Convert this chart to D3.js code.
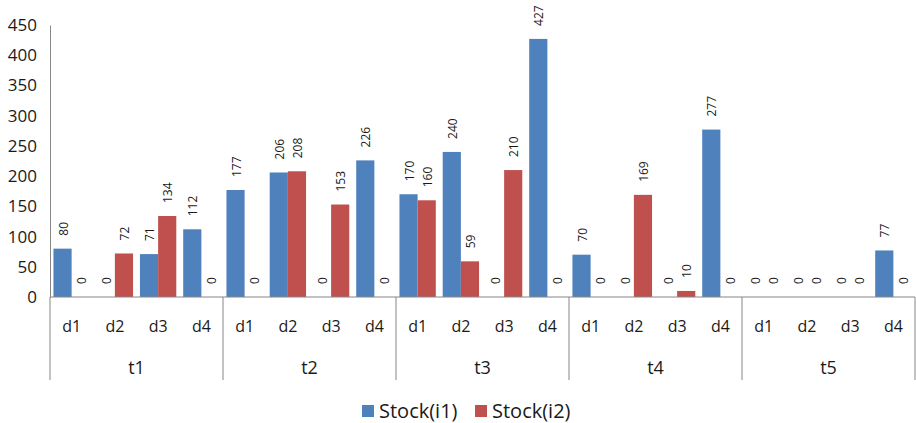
<!DOCTYPE html>
<html lang="en">
<meta charset="utf-8">
<head>
    <script src='https://d3js.org/d3.v7.min.js'></script>
    <style>
        body { margin: 0; background: #fff; }
        text { font-family: "Open Sans", sans-serif; fill: #1a1a1a; }
    </style>
</head>
<body>
<script>
// data
const groups = ["t1", "t2", "t3", "t4", "t5"];
const days = ["d1", "d2", "d3", "d4"];
const seriesNames = ["Stock(i1)", "Stock(i2)"];
const stock1 = [80, 0, 71, 112,  177, 206, 0, 226,  170, 240, 0, 427,  70, 0, 0, 277,  0, 0, 0, 77];
const stock2 = [0, 72, 134, 0,   0, 208, 153, 0,    160, 59, 210, 0,   0, 169, 10, 0,   0, 0, 0, 0];
const yTicks = [0, 50, 100, 150, 200, 250, 300, 350, 400, 450];
const colors = ["#4F81BD", "#C0504D"];

const width = 916, height = 423;
const margin = {top: 25, right: 1, bottom: 126, left: 50};
const plotW = width - margin.left - margin.right;
const plotH = height - margin.top - margin.bottom;

const svg = d3.select("body").append("svg")
    .attr("width", width)
    .attr("height", height);

const g = svg.append("g")
    .attr("transform", "translate(" + margin.left + "," + margin.top + ")");

// one band per (group, day)
const cats = [];
groups.forEach(function(t) { days.forEach(function(d) { cats.push(t + "|" + d); }); });

const x = d3.scaleBand().domain(cats).range([0, plotW]).paddingInner(0).paddingOuter(0);
const xs = d3.scaleBand().domain([0, 1]).range([0, x.bandwidth()]).paddingInner(0).paddingOuter(0.19);
const y = d3.scaleLinear().domain([0, 450]).range([plotH, 0]);

// y axis
const yAxis = g.append("g")
    .call(d3.axisLeft(y).tickValues(yTicks).tickSize(0).tickPadding(13));
yAxis.select(".domain").attr("stroke", "#868686");
yAxis.selectAll("text").style("font-size", "17px").attr("font-family", "Open Sans").attr("fill", "#1a1a1a");

// bars + labels
const rows = cats.map(function(c, i) { return {cat: c, vals: [stock1[i], stock2[i]]}; });
const cat = g.selectAll(".cat").data(rows).join("g")
    .attr("transform", function(d) { return "translate(" + x(d.cat) + ",0)"; });

cat.selectAll("rect").data(function(d) { return d.vals; }).join("rect")
    .attr("x", function(v, i) { return xs(i); })
    .attr("y", function(v) { return y(v); })
    .attr("width", xs.bandwidth())
    .attr("height", function(v) { return plotH - y(v); })
    .attr("fill", function(v, i) { return colors[i]; });

cat.selectAll(".lbl").data(function(d) { return d.vals; }).join("text")
    .attr("class", "lbl")
    .attr("transform", function(v, i) {
        return "translate(" + (xs(i) + xs.bandwidth() / 2 + 1) + "," + (y(v) - 13) + ") rotate(-90)";
    })
    .attr("dy", "0.35em")
    .style("font-size", "12px")
    .text(function(v) { return v; });

// x axis line
g.append("line")
    .attr("x1", 0).attr("x2", plotW)
    .attr("y1", plotH).attr("y2", plotH)
    .attr("stroke", "#868686");

// group separators
const gw = plotW / groups.length;
d3.range(groups.length + 1).forEach(function(i) {
    g.append("line")
        .attr("x1", i * gw).attr("x2", i * gw)
        .attr("y1", plotH).attr("y2", plotH + 83)
        .attr("stroke", "#868686");
});

// day labels
g.selectAll(".day").data(cats).join("text")
    .attr("x", function(c) { return x(c) + x.bandwidth() / 2; })
    .attr("y", plotH + 35)
    .attr("text-anchor", "middle")
    .style("font-size", "16px")
    .text(function(c) { return c.split("|")[1]; });

// group labels
g.selectAll(".grp").data(groups).join("text")
    .attr("x", function(t, i) { return i * gw + gw / 2; })
    .attr("y", plotH + 77)
    .attr("text-anchor", "middle")
    .style("font-size", "18px")
    .text(function(t) { return t; });

// legend
const legend = svg.append("g").attr("transform", "translate(362,405)");
const item = legend.selectAll("g").data(seriesNames).join("g")
    .attr("transform", function(d, i) { return "translate(" + (i * 113) + ",0)"; });
item.append("rect")
    .attr("width", 12).attr("height", 12)
    .attr("fill", function(d, i) { return colors[i]; });
item.append("text")
    .attr("x", 17).attr("y", 13)
    .style("font-size", "20px")
    .text(function(d) { return d; });
</script>
</body>
</html>
